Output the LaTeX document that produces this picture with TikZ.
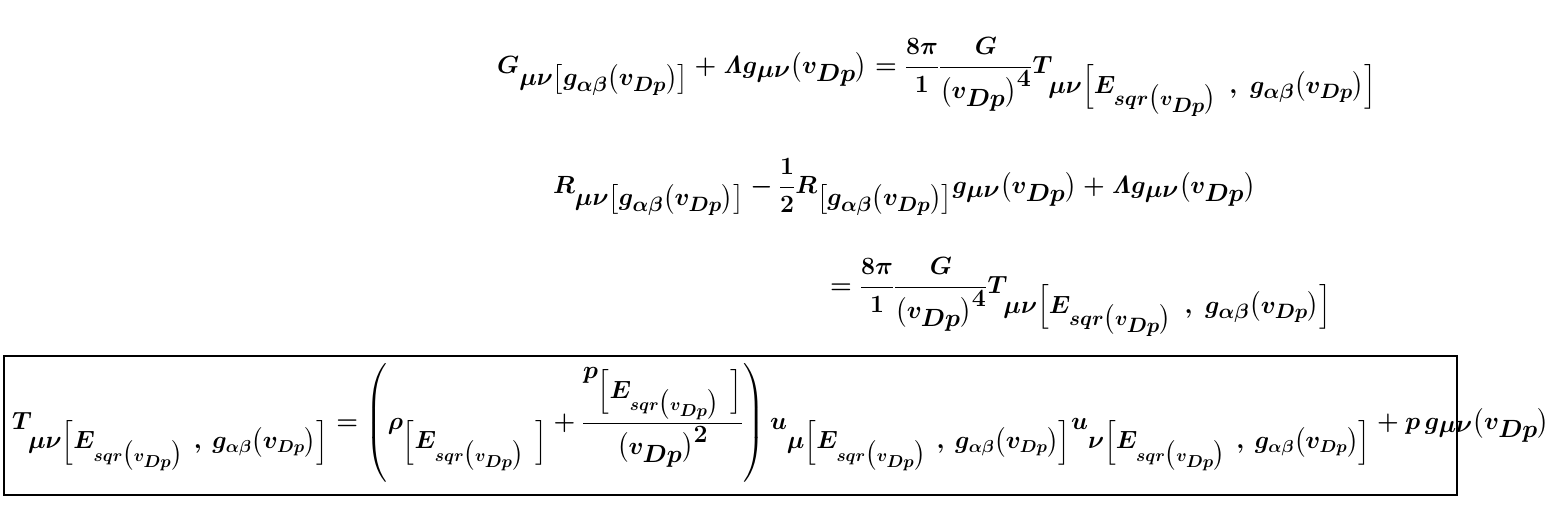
\documentclass[tikz,border=0pt]{standalone}
\usepackage{amsmath}
\newcommand\Esq{E_{sqr\bigl(v_{Dp}\bigr)}}
\newcommand\gab{g_{\alpha\beta}\bigl(v_{Dp}\bigr)}
\newcommand\Tsub{\Bigl[\Esq\ ,\ \gab\Bigr]}
\tikzset{eq/.style={anchor=west,inner sep=0pt,font=\boldmath\fontsize{42}{50}\selectfont},
 eqs/.style={anchor=west,inner sep=0pt,font=\boldmath\fontsize{35}{42}\selectfont}}
\begin{document}
\begin{tikzpicture}[x=1pt,y=1pt]
\useasboundingbox (0,0) rectangle (1550,509);
\node[eq] (l1) at (497,432) {$\displaystyle G_{\mu\nu\bigl[\gab\bigr]}+\mathit{\Lambda} g_{\mu\nu}\bigl(v_{Dp}\bigr)=\frac{8\pi}{1}\frac{G}{\bigl(v_{Dp}\bigr)^4}T_{\mu\nu\Tsub}$};
\node[eq] (l2) at (553,322) {$\displaystyle R_{\mu\nu\bigl[\gab\bigr]}-\frac{1}{2}R_{\bigl[\gab\bigr]}g_{\mu\nu}\bigl(v_{Dp}\bigr)+\mathit{\Lambda} g_{\mu\nu}\bigl(v_{Dp}\bigr)$};
\node[eq] (l3) at (830,212) {$\displaystyle =\frac{8\pi}{1}\frac{G}{\bigl(v_{Dp}\bigr)^4}T_{\mu\nu\Tsub}$};
\draw[line width=1.5pt] (4,14) rectangle (1457,153);
\node[eqs] (l4) at (12,86) {$\displaystyle T_{\mu\nu\Tsub}=\left(\rho_{\Bigl[\Esq\ \Bigr]}+\frac{p_{\Bigl[\Esq\ \Bigr]}}{\bigl(v_{Dp}\bigr)^2}\right)u_{\mu\Tsub}u_{\nu\Tsub}+p\,g_{\mu\nu}\bigl(v_{Dp}\bigr)$};
\end{tikzpicture}
\end{document}
